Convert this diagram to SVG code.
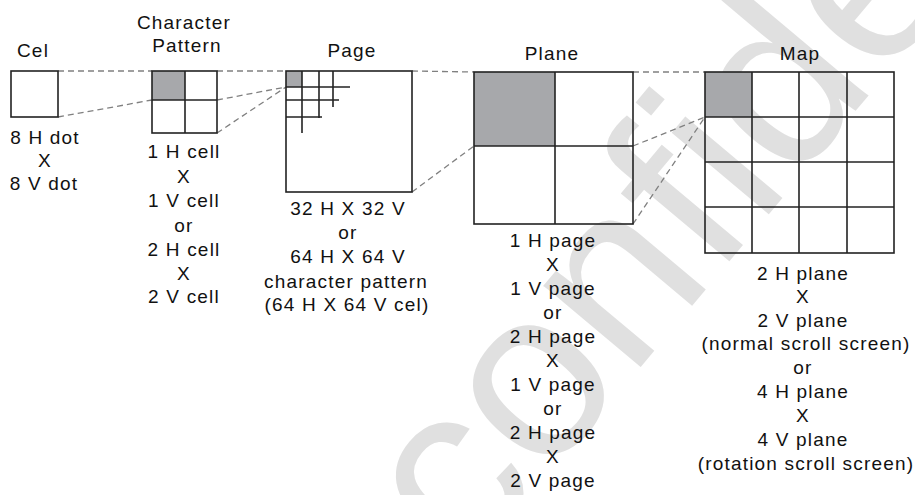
<svg xmlns="http://www.w3.org/2000/svg" width="915" height="495" viewBox="0 0 915 495">
<style>
.t { font-family: "Liberation Sans", Arial, sans-serif; font-size: 19px; fill: #111; text-anchor: middle; letter-spacing: 1.2px; }
.box { fill: none; stroke: #222; stroke-width: 1.6; }
.grid { fill: none; stroke: #222; stroke-width: 1.6; }
.shade { fill: #a7a8ab; }
.dash { fill: none; stroke: #808080; stroke-width: 1.3; stroke-dasharray: 6 4; }
.wm { font-family: "Liberation Sans", Arial, sans-serif; font-size: 240px; fill: #e0e0e0; }
</style>
<rect width="915" height="495" fill="#fff"/>
<g id="watermark">
<text class="wm" x="467" y="574" transform="rotate(-50 467 574)">confidential</text>
</g>
<g id="connectors">
<line class="dash" x1="58" y1="71" x2="152" y2="71"/>
<line class="dash" x1="58" y1="117" x2="152" y2="100"/>
<line class="dash" x1="217" y1="71" x2="286" y2="71"/>
<line class="dash" x1="217" y1="100" x2="286" y2="87"/>
<line class="dash" x1="217" y1="133" x2="286" y2="87"/>
<line class="dash" x1="412" y1="71" x2="474" y2="72"/>
<line class="dash" x1="412" y1="192" x2="474" y2="146"/>
<line class="dash" x1="633" y1="72" x2="705" y2="72"/>
<line class="dash" x1="633" y1="146" x2="705" y2="117"/>
<line class="dash" x1="633" y1="224" x2="705" y2="117"/>
</g>
<g id="cel">
<text class="t" x="33" y="57">Cel</text>
<rect class="box" x="11" y="71" width="47" height="46"/>
<text class="t" x="45" y="144">8 H dot</text>
<text class="t" x="45" y="167">X</text>
<text class="t" x="44" y="190">8 V dot</text>
</g>
<g id="character-pattern">
<text class="t" x="184" y="29">Character</text>
<text class="t" x="187" y="52">Pattern</text>
<rect class="shade" x="152" y="71" width="33" height="29"/>
<rect class="box" x="152" y="71" width="65" height="62"/>
<line class="grid" x1="185" y1="71" x2="185" y2="133"/>
<line class="grid" x1="152" y1="100" x2="217" y2="100"/>
<text class="t" x="184" y="158">1 H cell</text>
<text class="t" x="184" y="183">X</text>
<text class="t" x="184" y="207">1 V cell</text>
<text class="t" x="184" y="232">or</text>
<text class="t" x="184" y="256">2 H cell</text>
<text class="t" x="184" y="280">X</text>
<text class="t" x="184" y="303">2 V cell</text>
</g>
<g id="page">
<text class="t" x="352" y="57">Page</text>
<rect class="shade" x="286" y="71" width="16" height="16"/>
<rect class="box" x="286" y="71" width="126" height="121"/>
<line class="grid" x1="286" y1="87" x2="350" y2="87"/>
<line class="grid" x1="286" y1="100" x2="339" y2="100"/>
<line class="grid" x1="286" y1="117" x2="322" y2="117"/>
<line class="grid" x1="302" y1="71" x2="302" y2="133"/>
<line class="grid" x1="319" y1="71" x2="319" y2="118"/>
<line class="grid" x1="333" y1="71" x2="333" y2="107"/>
<text class="t" x="348" y="215">32 H X 32 V</text>
<text class="t" x="348" y="239">or</text>
<text class="t" x="348" y="263">64 H X 64 V</text>
<text class="t" x="346" y="288">character pattern</text>
<text class="t" x="347" y="311">(64 H X 64 V cel)</text>
</g>
<g id="plane">
<text class="t" x="552" y="60">Plane</text>
<rect class="shade" x="474" y="72" width="81" height="74"/>
<rect class="box" x="474" y="72" width="159" height="152"/>
<line class="grid" x1="555" y1="72" x2="555" y2="224"/>
<line class="grid" x1="474" y1="146" x2="633" y2="146"/>
<text class="t" x="553" y="247">1 H page</text>
<text class="t" x="553" y="271">X</text>
<text class="t" x="553" y="295">1 V page</text>
<text class="t" x="553" y="319">or</text>
<text class="t" x="553" y="343">2 H page</text>
<text class="t" x="553" y="367">X</text>
<text class="t" x="553" y="391">1 V page</text>
<text class="t" x="553" y="415">or</text>
<text class="t" x="553" y="439">2 H page</text>
<text class="t" x="553" y="463">X</text>
<text class="t" x="553" y="487">2 V page</text>
</g>
<g id="map">
<text class="t" x="800" y="60">Map</text>
<rect class="shade" x="705" y="72" width="47" height="45"/>
<rect class="box" x="705" y="72" width="189" height="181"/>
<line class="grid" x1="752" y1="72" x2="752" y2="253"/>
<line class="grid" x1="799" y1="72" x2="799" y2="253"/>
<line class="grid" x1="847" y1="72" x2="847" y2="253"/>
<line class="grid" x1="705" y1="117" x2="894" y2="117"/>
<line class="grid" x1="705" y1="162" x2="894" y2="162"/>
<line class="grid" x1="705" y1="207" x2="894" y2="207"/>
<text class="t" x="803" y="280">2 H plane</text>
<text class="t" x="803" y="303">X</text>
<text class="t" x="803" y="327">2 V plane</text>
<text class="t" x="806" y="350">(normal scroll screen)</text>
<text class="t" x="803" y="374">or</text>
<text class="t" x="803" y="398">4 H plane</text>
<text class="t" x="803" y="422">X</text>
<text class="t" x="803" y="446">4 V plane</text>
<text class="t" x="806" y="470">(rotation scroll screen)</text>
</g>
</svg>
